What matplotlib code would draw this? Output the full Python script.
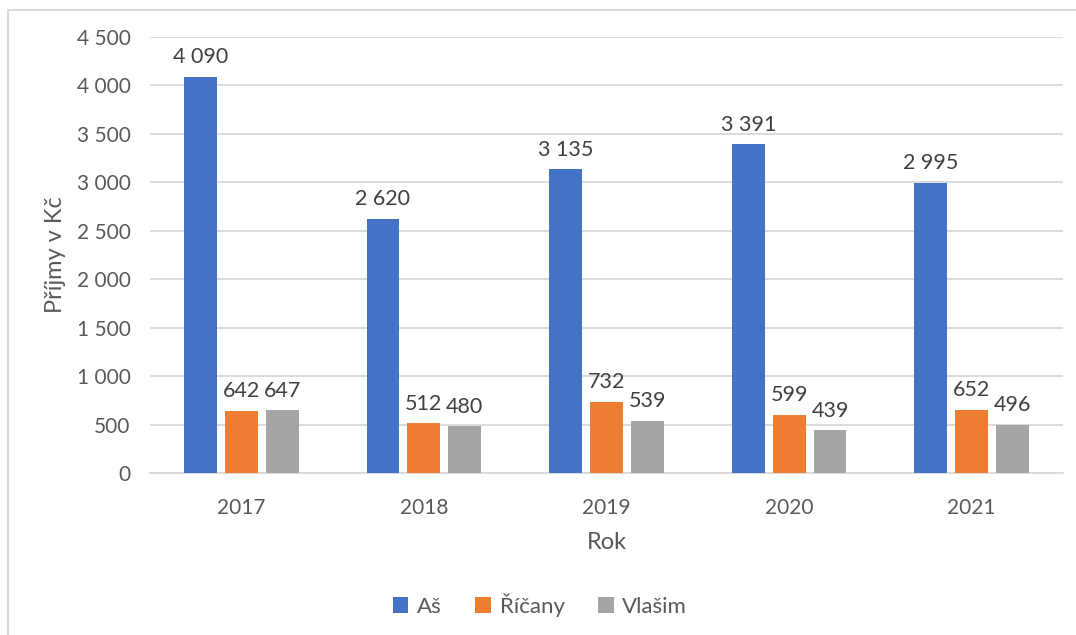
import matplotlib
matplotlib.use('Agg')
import matplotlib.pyplot as plt
from matplotlib.ticker import FuncFormatter, MultipleLocator
import numpy as np

plt.rcParams['font.family'] = ['Lato', 'DejaVu Sans']

years = ['2017', '2018', '2019', '2020', '2021']
series_names = ['Aš', 'Říčany', 'Vlašim']
as_vals = [4090, 2620, 3135, 3391, 2995]
ricany_vals = [642, 512, 732, 599, 652]
vlasim_vals = [647, 480, 539, 439, 496]

colors = ['#4472C4', '#ED7D31', '#A5A5A5']
TEXT = '#595959'
GRID = '#D9D9D9'

def fmt(v):
    return '{0:,.0f}'.format(v).replace(',', ' ')

fig = plt.figure(figsize=(10.76, 6.35), dpi=100)
ax = fig.add_axes([150/1076, 1-473/635, 913/1076, 436/635])

x = np.arange(len(years))
width = 0.18
step = 0.224
allvals = [as_vals, ricany_vals, vlasim_vals]
for i, vals in enumerate(allvals):
    pos = x + (i-1)*step
    bars = ax.bar(pos, vals, width, color=colors[i], label=series_names[i], zorder=3)
    for b, v in zip(bars, vals):
        ax.annotate(fmt(v), (b.get_x()+b.get_width()/2, v), xytext=(0, 7),
                    textcoords='offset points', ha='center', va='bottom',
                    fontsize=15.5, color='#404040')

ax.set_xlim(-0.5, len(years)-0.5)
ax.set_ylim(0, 4500)
ax.yaxis.set_major_locator(MultipleLocator(500))
ax.yaxis.set_major_formatter(FuncFormatter(lambda v, p: fmt(v)))
ax.set_xticks(x)
ax.set_xticklabels(years)
ax.grid(axis='y', color=GRID, linewidth=1.3, zorder=0)
for s in ['top', 'right', 'left']:
    ax.spines[s].set_visible(False)
ax.spines['bottom'].set_color(GRID)
ax.spines['bottom'].set_linewidth(1.3)
ax.tick_params(length=0, labelsize=15, labelcolor=TEXT)
ax.tick_params(axis='x', pad=18)
ax.tick_params(axis='y', pad=14)

ax.set_ylabel('Příjmy v Kč', fontsize=17, color=TEXT, labelpad=8)
ax.set_xlabel('Rok', fontsize=17, color=TEXT, labelpad=10)

fig.legend(loc='center', bbox_to_anchor=(540/1076, 1-605/635), ncol=3,
           frameon=False, fontsize=16, labelcolor=TEXT, handlelength=0.7,
           handleheight=0.7, handletextpad=0.4, columnspacing=1.5)

# chart border: top and left only
fig.add_artist(plt.Line2D([8/1076, 1], [1-10/635, 1-10/635], color=GRID, linewidth=1.5,
                          transform=fig.transFigure))
fig.add_artist(plt.Line2D([8/1076, 8/1076], [0, 1-10/635], color=GRID, linewidth=1.5,
                          transform=fig.transFigure))

fig.savefig('out.png', dpi=100)
